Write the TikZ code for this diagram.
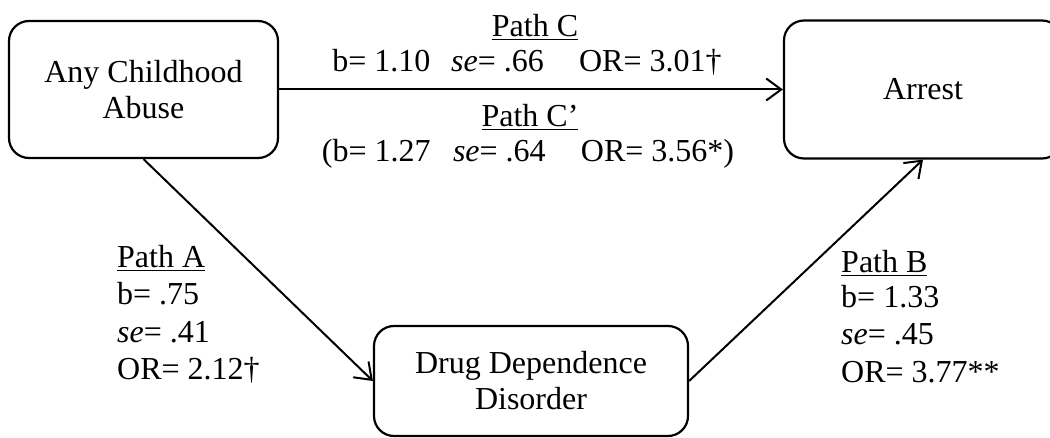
\documentclass[tikz,border=0pt]{standalone}
\usepackage{fontspec}
\setmainfont{Liberation Serif}
\usetikzlibrary{arrows.meta}
\begin{document}
\begin{tikzpicture}[x=1pt,y=-1pt,
  box/.style={draw, line width=2.2pt, rounded corners=20pt, align=center, inner sep=0pt,
    font=\fontsize{32}{36}\selectfont},
  lbl/.style={inner sep=0pt, font=\fontsize{32}{36}\selectfont},
  arr/.style={line width=2pt, -{Straight Barb[length=15pt,width=22pt,line width=2pt]}}]
\useasboundingbox (0,0) rectangle (1050,438);
\node[box, minimum width=269pt, minimum height=137pt] (abuse) at (143.5,89.5) {Any Childhood\\Abuse};
\node[box, minimum width=278pt, minimum height=138pt] (arrest) at (923,89.5) {Arrest};
\node[box, minimum width=314pt, minimum height=110pt] (drug) at (531,381) {Drug Dependence\\Disorder};
\draw[arr] (abuse.east) -- (arrest.west);
\draw[arr] (abuse.south) -- (drug.west);
\draw[arr] (drug.east) -- (arrest.south);
\node[lbl, anchor=base] (pc) at (535,37) {\underline{Path C}};
\node[lbl, anchor=base] (pcv) at (527,72) {b= 1.10\hspace{0.65em}\textit{se}= .66\hspace{1.1em}OR= 3.01†};
\node[lbl, anchor=base] (pcp) at (530,127) {\underline{Path C’}};
\node[lbl, anchor=base] (pcpv) at (528,162) {(b= 1.27\hspace{0.7em}\textit{se}= .64\hspace{1.1em}OR= 3.56*)};
\node[lbl, anchor=base west] (pa) at (117,268) {\underline{Path A}};
\node[lbl, anchor=base west] (pa1) at (117,305) {b= .75};
\node[lbl, anchor=base west] (pa2) at (117,343) {\textit{se}= .41};
\node[lbl, anchor=base west] (pa3) at (117,380) {OR= 2.12†};
\node[lbl, anchor=base west] (pb) at (841,273) {\underline{Path B}};
\node[lbl, anchor=base west] (pb1) at (841,308) {b= 1.33};
\node[lbl, anchor=base west] (pb2) at (841,345) {\textit{se}= .45};
\node[lbl, anchor=base west] (pb3) at (841,383) {OR= 3.77**};
\end{tikzpicture}
\end{document}
